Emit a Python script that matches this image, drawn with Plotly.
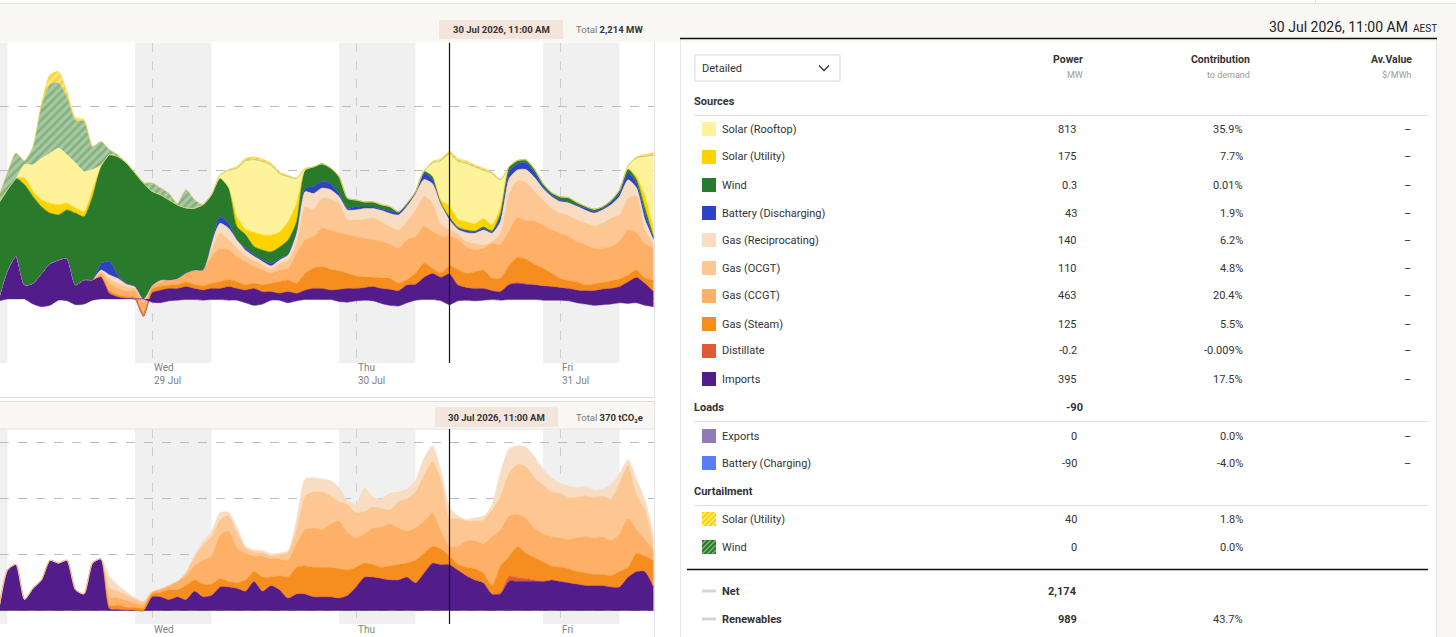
import pandas as pd
import plotly.graph_objects as go

# ---------------- DATA (hourly, Tue 28 Jul 06:00 -> Fri 31 Jul 11:00) ----------------
hours = pd.date_range("2026-07-28 06:00", "2026-07-31 11:00", freq="h")

imports_mw = [
    20, 450, 670, 220, 245, 400, 550, 610, 635, 220,
    300, 300, 350, 90, 35, 10, 0, -270, 100, 140,
    165, 165, 195, 165, 140, 165, 165, 195, 165, 140,
    165, 115, 115, 90, 115, 90, 140, 165, 165, 140,
    150, 165, 165, 180, 195, 165, 150, 130, 220, 230,
    340, 400, 340, 395, 220, 180, 165, 165, 130, 115,
    220, 245, 230, 220, 205, 195, 180, 165, 140, 130,
    130, 155, 165, 195, 270, 340, 245, 115]
distillate_mw = [
    0, 0, 0, 0, 0, 0, 0, 0, 0, 0,
    0, 0, 0, 0, 0, 0, 0, 0, 0, 0,
    0, 0, 0, 0, 0, 0, 0, 0, 0, 0,
    0, 0, 0, 0, 0, 0, 0, 0, 0, 0,
    0, 0, 0, 0, 0, 0, 0, 0, 0, 0,
    0, 0, 0, -0.2, 0, 0, 0, 0, 0, 5,
    15, 15, 10, 5, 0, 0, 0, 0, 0, 0,
    0, 0, 0, 0, 0, 0, 0, 0]
steam_mw = [
    0, 0, 0, 0, 0, 0, 0, 0, 0, 0,
    0, 0, 0, 40, 30, 30, 30, 40, 50, 60,
    50, 60, 70, 60, 65, 80, 105, 105, 105, 80,
    80, 105, 130, 180, 180, 155, 260, 315, 340, 325,
    290, 235, 195, 165, 145, 165, 170, 115, 80, 170,
    220, 80, 65, 125, 235, 220, 260, 285, 195, 210,
    285, 390, 380, 315, 275, 210, 140, 120, 130, 90,
    105, 100, 120, 115, 105, 115, 80, 180]
ccgt_mw = [
    0, 0, 0, 0, 0, 0, 0, 0, 0, 0,
    0, 0, 50, 120, 100, 90, 100, 150, 40, 60,
    80, 95, 140, 225, 250, 415, 520, 470, 390, 365,
    260, 235, 155, 180, 180, 470, 520, 495, 600, 605,
    595, 600, 615, 600, 585, 565, 535, 545, 625, 575,
    575, 575, 575, 463, 470, 415, 340, 340, 545, 520,
    545, 625, 600, 675, 675, 675, 705, 690, 625, 625,
    555, 535, 530, 590, 705, 575, 545, 495]
ocgt_mw = [
    0, 0, 0, 0, 0, 0, 0, 0, 0, 0,
    0, 0, 30, 60, 80, 60, 40, 50, 20, 35,
    0, 0, 0, 0, 0, 105, 235, 155, 130, 90,
    95, 80, 65, 105, 130, 155, 520, 420, 470, 490,
    460, 235, 260, 300, 340, 315, 270, 285, 285, 415,
    470, 445, 180, 110, 80, 80, 105, 50, 25, 180,
    575, 575, 600, 470, 390, 340, 315, 325, 340, 340,
    350, 390, 445, 415, 495, 575, 210, 80]
recip_mw = [
    0, 0, 0, 0, 0, 0, 0, 0, 0, 0,
    0, 0, 20, 65, 75, 40, 25, 30, 0, 0,
    0, 0, 0, 0, 0, 105, 155, 180, 130, 85,
    65, 50, 50, 50, 80, 155, 235, 250, 155, 145,
    105, 155, 155, 165, 145, 170, 210, 235, 235, 250,
    260, 300, 315, 140, 80, 140, 155, 235, 130, 180,
    235, 165, 200, 210, 180, 180, 180, 200, 210, 200,
    200, 210, 210, 285, 285, 130, 155, 50]
battery_mw = [
    0, 0, 0, 0, 0, 0, 0, 0, 0, 0,
    0, 0, 100, 210, 50, 10, 0, 0, 0, 0,
    0, 0, 0, 0, 0, 0, 105, 80, 5, 35,
    25, 25, 40, 25, 10, 25, 50, 115, 105, 95,
    50, 25, 50, 25, 25, 25, 40, 35, 25, 25,
    105, 65, 10, 43, 25, 30, 25, 25, 25, 80,
    105, 95, 105, 80, 35, 25, 25, 15, 15, 35,
    25, 25, 35, 50, 105, 80, 105, 25]
wind_mw = [
    1480, 1255, 1215, 1565, 1355, 1040, 790, 705, 755, 1120,
    985, 1300, 1520, 1665, 1850, 1880, 1770, 1810, 1470, 1330,
    1250, 1145, 1015, 965, 1015, 755, 600, 550, 205, 210,
    130, 155, 180, 180, 225, 155, 285, 300, 275, 245,
    260, 155, 105, 80, 80, 65, 65, 15, 25, 10,
    25, 50, 10, 0.3, 10, 10, 10, 25, 15, 50,
    80, 50, 45, 50, 40, 35, 50, 65, 45, 25,
    35, 25, 30, 50, 65, 50, 80, 25]
utility_mw = [
    0, 0, 0, 105, 80, 105, 155, 155, 105, 80,
    80, 105, 0, 0, 0, 0, 0, 0, 0, 0,
    0, 0, 0, 0, 0, 0, 0, 10, 155, 80,
    220, 235, 260, 235, 285, 285, 0, 0, 0, 0,
    0, 0, 0, 0, 0, 0, 0, 0, 0, 0,
    0, 0, 40, 175, 120, 130, 115, 130, 90, 100,
    0, 0, 0, 0, 0, 0, 0, 0, 0, 0,
    0, 0, 0, 0, 0, 50, 180, 105]
rooftop_mw = [
    0, 0, 0, 210, 415, 650, 780, 885, 755, 705,
    625, 315, 20, 0, 0, 0, 0, 0, 0, 0,
    0, 0, 0, 0, 0, 0, 50, 260, 755, 1070,
    1135, 1145, 1095, 910, 705, 390, 25, 0, 0, 0,
    0, 0, 0, 0, 0, 0, 0, 0, 0, 0,
    0, 210, 625, 813, 910, 910, 885, 755, 805, 420,
    0, 0, 0, 0, 0, 0, 0, 0, 0, 0,
    0, 0, 0, 0, 50, 285, 625, 1170]
wind_curtail_mw = [
    100, 260, 390, 50, 270, 810, 1070, 1015, 890, 655,
    780, 350, 365, 80, 25, 0, 0, 0, 130, 105,
    100, 20, 285, 130, 0, 0, 0, 0, 0, 0,
    0, 0, 0, 0, 0, 0, 0, 0, 0, 0,
    0, 0, 0, 0, 0, 0, 0, 0, 0, 0,
    0, 0, 0, 0, 0, 0, 0, 0, 0, 0,
    0, 0, 0, 0, 0, 0, 0, 0, 0, 0,
    0, 0, 0, 0, 0, 0, 0, 0]
solar_curtail_mw = [
    0, 0, 0, 10, 15, 50, 155, 180, 100, 50,
    30, 15, 0, 0, 0, 0, 0, 0, 0, 0,
    0, 0, 0, 0, 0, 0, 0, 10, 30, 40,
    40, 40, 30, 30, 20, 10, 0, 0, 0, 0,
    0, 0, 0, 0, 0, 0, 0, 0, 0, 0,
    0, 20, 30, 40, 40, 40, 30, 30, 20, 10,
    0, 0, 0, 0, 0, 0, 0, 0, 0, 0,
    0, 0, 0, 0, 0, 20, 30, 40]
charging_mw = [
    -30, 0, 0, 0, -80, -120, -100, -20, -30, -90,
    -80, -20, 0, 0, 0, 0, 0, 0, -50, -60,
    -30, -20, -10, -10, -20, -10, -10, -20, -20, -60,
    -100, -80, -20, -20, -60, -30, -10, -10, -10, -10,
    -40, -50, -30, -20, -30, -70, -100, -110, -60, -20,
    -10, -10, -30, -90, -30, -20, -30, -20, -10, -20,
    -10, -10, -10, -10, -20, -20, -20, -30, -60, -80,
    -100, -90, -80, -60, -70, -60, -100, -120]

# emissions, tCO2e
em_imports = [
    8, 145, 165, 40, 80, 110, 180, 170, 180, 75,
    60, 170, 185, 8, 5, 2, 2, 0, 50, 50,
    40, 50, 40, 70, 50, 55, 85, 85, 80, 70,
    105, 70, 90, 75, 45, 60, 60, 50, 50, 50,
    45, 55, 85, 120, 120, 115, 110, 110, 120, 100,
    135, 170, 165, 165, 145, 125, 110, 100, 60, 60,
    105, 105, 105, 105, 105, 110, 105, 100, 95, 90,
    90, 90, 85, 85, 120, 140, 140, 85]
em_distillate = [
    0, 0, 0, 0, 0, 0, 0, 0, 0, 0,
    0, 0, 0, 0, 0, 0, 0, 0, 0, 0,
    0, 0, 0, 0, 0, 0, 0, 0, 0, 0,
    0, 0, 0, 0, 0, 0, 0, 0, 0, 0,
    0, 0, 0, 0, 0, 0, 0, 0, 0, 0,
    0, 0, 0, 0, 0, 0, 0, 0, 0, 5,
    18, 14, 10, 5, 0, 0, 0, 0, 0, 0,
    0, 0, 0, 0, 0, 0, 0, 0]
em_steam = [
    0, 0, 0, 0, 0, 0, 0, 0, 0, 0,
    0, 0, 0, 10, 15, 10, 10, 10, 10, 15,
    35, 25, 50, 40, 45, 40, 30, 20, 20, 40,
    35, 50, 30, 50, 75, 95, 100, 105, 105, 105,
    105, 90, 70, 50, 45, 40, 50, 55, 50, 80,
    70, 60, 55, 30, 20, 30, 40, 35, 30, 95,
    70, 110, 90, 80, 70, 50, 50, 50, 45, 45,
    40, 40, 40, 55, 35, 65, 55, 95]
em_ccgt = [
    0, 0, 0, 0, 0, 0, 0, 0, 0, 0,
    0, 0, 0, 30, 25, 25, 15, 12, 8, 12,
    15, 30, 35, 50, 85, 100, 155, 180, 125, 95,
    55, 75, 65, 60, 60, 85, 130, 140, 135, 155,
    170, 135, 105, 105, 130, 145, 150, 130, 115, 115,
    115, 120, 65, 35, 65, 95, 100, 105, 175, 130,
    145, 115, 125, 105, 100, 105, 105, 105, 120, 130,
    130, 135, 125, 135, 175, 85, 60, 35]
em_ocgt = [
    0, 0, 0, 0, 0, 0, 0, 0, 0, 0,
    0, 0, 0, 35, 25, 20, 15, 10, 0, 0,
    0, 0, 12, 35, 55, 70, 55, 55, 55, 20,
    15, 12, 12, 15, 30, 50, 120, 130, 135, 100,
    70, 100, 90, 80, 75, 65, 50, 95, 115, 130,
    165, 185, 185, 100, 100, 70, 70, 85, 95, 120,
    155, 180, 185, 180, 175, 160, 160, 150, 145, 145,
    145, 145, 150, 180, 190, 125, 105, 25]
em_recip = [
    0, 0, 0, 0, 0, 0, 0, 0, 0, 0,
    0, 0, 0, 40, 20, 10, 5, 0, 0, 0,
    0, 0, 0, 0, 12, 18, 25, 12, 18, 6,
    7, 8, 6, 6, 4, 35, 60, 50, 45, 55,
    50, 12, 30, 85, 35, 35, 60, 35, 35, 40,
    60, 55, 30, 40, 8, 6, 12, 12, 18, 85,
    85, 65, 70, 75, 55, 50, 35, 40, 35, 35,
    25, 25, 50, 35, 20, 55, 35, 35]

# table
source_names = ["Solar (Rooftop)", "Solar (Utility)", "Wind", "Battery (Discharging)",
                "Gas (Reciprocating)", "Gas (OCGT)", "Gas (CCGT)", "Gas (Steam)",
                "Distillate", "Imports"]
source_power = ["813", "175", "0.3", "43", "140", "110", "463", "125", "-0.2", "395"]
source_contrib = ["35.9%", "7.7%", "0.01%", "1.9%", "6.2%", "4.8%", "20.4%", "5.5%",
                  "-0.009%", "17.5%"]
load_names = ["Exports", "Battery (Charging)"]
load_power = ["0", "-90"]
load_contrib = ["0.0%", "-4.0%"]
curtail_names = ["Solar (Utility)", "Wind"]
curtail_power = ["40", "0"]
curtail_contrib = ["1.8%", "0.0%"]
day_ticks = ["2026-07-29", "2026-07-30", "2026-07-31"]
day_labels = ["Wed<br>29 Jul", "Thu<br>30 Jul", "Fri<br>31 Jul"]
day_short = ["Wed", "Thu", "Fri"]
night_starts = ["2026-07-27 22:00", "2026-07-28 22:00", "2026-07-29 22:00", "2026-07-30 22:00"]
night_ends = ["2026-07-28 07:00", "2026-07-29 07:00", "2026-07-30 07:00", "2026-07-31 07:00"]
cursor_time = "2026-07-30 11:00"

# ---------------- STYLE ----------------
C = {
    "Solar (Rooftop)": "#FEF39B", "Solar (Utility)": "#FED300", "Wind": "#2A7A2C",
    "Battery (Discharging)": "#2C44C4", "Gas (Reciprocating)": "#F9DDC3",
    "Gas (OCGT)": "#FDC794", "Gas (CCGT)": "#FDB066", "Gas (Steam)": "#F58E1E",
    "Distillate": "#E05A34", "Imports": "#521C8A", "Exports": "#927AB4",
    "Battery (Charging)": "#5A7CF8",
}
W, H = 1456, 637
FONT = "Roboto"


def px(x):
    return x / W


def py(y):
    return 1 - y / H


fig = go.Figure()

gen = [("Imports", imports_mw), ("Distillate", distillate_mw), ("Gas (Steam)", steam_mw),
       ("Gas (CCGT)", ccgt_mw), ("Gas (OCGT)", ocgt_mw), ("Gas (Reciprocating)", recip_mw),
       ("Battery (Discharging)", battery_mw), ("Wind", wind_mw),
       ("Solar (Utility)", utility_mw), ("Solar (Rooftop)", rooftop_mw)]
for name, vals in gen:
    fig.add_trace(go.Scatter(x=hours, y=vals, name=name, stackgroup="gen", mode="lines",
                             line=dict(width=0.5, color=C[name], shape="spline", smoothing=0.6),
                             fillcolor=C[name], xaxis="x", yaxis="y", hoverinfo="skip"))
fig.add_trace(go.Scatter(x=hours, y=wind_curtail_mw, name="Wind (Curtailed)", stackgroup="gen",
                         mode="lines", line=dict(width=0.5, color="#8DB58A", shape="spline", smoothing=0.6),
                         fillcolor="#A9C9A5",
                         fillpattern=dict(shape="/", bgcolor="#A9C9A5", fgcolor="#5E9A5B", size=6, solidity=0.45),
                         xaxis="x", yaxis="y", hoverinfo="skip"))
fig.add_trace(go.Scatter(x=hours, y=solar_curtail_mw, name="Solar (Utility, Curtailed)", stackgroup="gen",
                         mode="lines", line=dict(width=0.5, color="#F4D23A", shape="spline", smoothing=0.6),
                         fillcolor="#FBE47A",
                         fillpattern=dict(shape="/", bgcolor="#FBE47A", fgcolor="#F2C400", size=6, solidity=0.5),
                         xaxis="x", yaxis="y", hoverinfo="skip"))
fig.add_trace(go.Scatter(x=hours, y=charging_mw, name="Battery (Charging)", stackgroup="neg", mode="lines",
                         line=dict(width=0.5, color="#521C8A", shape="spline", smoothing=0.6),
                         fillcolor="#521C8A", xaxis="x", yaxis="y", hoverinfo="skip"))

emi = [("Imports", em_imports), ("Distillate", em_distillate), ("Gas (Steam)", em_steam),
       ("Gas (CCGT)", em_ccgt), ("Gas (OCGT)", em_ocgt), ("Gas (Reciprocating)", em_recip)]
for name, vals in emi:
    fig.add_trace(go.Scatter(x=hours, y=vals, name=name + " tCO2e", stackgroup="em", mode="lines",
                             line=dict(width=0.5, color=C[name], shape="spline", smoothing=0.6),
                             fillcolor=C[name], xaxis="x2", yaxis="y2", hoverinfo="skip"))

shapes = []
ann = []


def rect(x0, y0, x1, y1, fill, line=None, lw=0, layer="below"):
    shapes.append(dict(type="rect", xref="paper", yref="paper", x0=px(x0), x1=px(x1),
                       y0=py(y1), y1=py(y0), fillcolor=fill,
                       line=dict(color=line or fill, width=lw), layer=layer))


def seg(x0, y0, x1, y1, color, width=1, dash="solid", layer="above"):
    shapes.append(dict(type="line", xref="paper", yref="paper", x0=px(x0), x1=px(x1),
                       y0=py(y0), y1=py(y1), line=dict(color=color, width=width, dash=dash),
                       layer=layer))


def text(x, y, s, size=11, color="#333333", anchor="left"):
    ann.append(dict(xref="paper", yref="paper", x=px(x), y=py(y), text=s, showarrow=False,
                    xanchor=anchor, yanchor="middle", borderpad=0, borderwidth=0,
                    font=dict(family=FONT, size=size, color=color)))


BEIGE = "#F9F7F4"
# page frame
rect(0, 4, W, 42, BEIGE)
rect(0, 402, 655, 429, BEIGE)
rect(1437, 38, W, H, BEIGE)
seg(0, 3.5, W, 3.5, "#E3E3E3")
seg(1315.5, 0, 1315.5, 4, "#E3E3E3")
seg(0, 397.5, 655, 397.5, "#DDDDDD")
seg(0, 401.5, 655, 401.5, "#DDDDDD")
seg(0, 429, 655, 429, "#E3E3E3")
seg(654.5, 42, 654.5, 398, "#E3E3E3")
seg(654.5, 402, 654.5, H, "#E3E3E3")
seg(680.5, 38, 680.5, H, "#E6E6E6")
seg(1436.5, 38, 1436.5, H, "#E6E6E6")
seg(680, 38.5, 1437, 38.5, "#111111", width=1.5)

# night bands, cursor
for s, e in zip(night_starts, night_ends):
    for xr, yr in (("x", "y domain"), ("x2", "y2 domain")):
        shapes.append(dict(type="rect", xref=xr, yref=yr, x0=s, x1=e, y0=0, y1=1,
                           fillcolor="#F0F0F0", line=dict(width=0), layer="below"))
for xr, yr in (("x", "y domain"), ("x2", "y2 domain")):
    shapes.append(dict(type="line", xref=xr, yref=yr, x0=cursor_time, x1=cursor_time, y0=0, y1=1,
                       line=dict(color="#111111", width=1.2), layer="above"))

# chart headers
rect(439, 20, 563, 39, "#F3E4DC")
text(501, 29.5, "<b>30 Jul 2026, 11:00 AM</b>", size=9.5, color="#333333", anchor="center")
text(643, 29.5, "<span style='color:#777777'>Total</span> <b>2,214 MW</b>", size=9.5, anchor="right")
rect(435, 407, 558, 427, "#F3E4DC")
text(496.5, 417, "<b>30 Jul 2026, 11:00 AM</b>", size=9.5, color="#333333", anchor="center")
text(643, 417, "<span style='color:#777777'>Total</span> <b>370 tCO₂e</b>", size=9.5, anchor="right")

# day tick labels
for d, lab, short in zip(day_ticks, day_labels, day_short):
    ann.append(dict(xref="x", yref="paper", x=d, y=py(362), text=lab, showarrow=False,
                    xanchor="left", yanchor="top", xshift=2, align="left", borderpad=0, borderwidth=0,
                    font=dict(family=FONT, size=10, color="#808080")))
    ann.append(dict(xref="x2", yref="paper", x=d, y=py(624), text=short, showarrow=False,
                    xanchor="left", yanchor="top", xshift=2, align="left", borderpad=0, borderwidth=0,
                    font=dict(family=FONT, size=10, color="#808080")))

# ---------------- TABLE PANEL ----------------
text(1408, 27, "30 Jul 2026, 11:00 AM", size=14, color="#222222", anchor="right")
text(1437, 28.5, "AEST", size=10, color="#222222", anchor="right")

rect(695, 55, 840, 81, "#FFFFFF", line="#D9D9D9", lw=1, layer="above")
text(702, 68, "Detailed", size=11, color="#333333")
shapes.append(dict(type="path", xref="paper", yref="paper",
                   path=f"M {px(819)} {py(65.5)} L {px(824)} {py(70.5)} L {px(829)} {py(65.5)}",
                   line=dict(color="#333333", width=1.3), layer="above"))

for xr, head, sub in ((1083, "Power", "MW"), (1250, "Contribution", "to demand"), (1412, "Av.Value", "$/MWh")):
    text(xr, 60, f"<b>{head}</b>", size=10.5, color="#333333", anchor="right")
    text(xr, 75, sub, size=9, color="#9A9A9A", anchor="right")

X_SW, X_LAB, X_POW, X_CON, X_AV = 702, 722, 1077, 1243, 1407


def swatch(y, color):
    rect(X_SW, y - 7, X_SW + 14, y + 7, color, layer="above")


def hatched(y, color, stripe):
    swatch(y, color)
    top = y - 7
    for c in (4, 9, 14, 19, 24):
        xa, xb = max(0, c - 14), min(14, c)
        seg(X_SW + xa, top + c - xa, X_SW + xb, top + c - xb, stripe, width=1.2)


text(694, 101, "<b>Sources</b>", size=11)
seg(694, 115.5, 1428, 115.5, "#E0E0E0")
row_y = [129, 157, 185, 213, 240, 268, 296, 324, 351, 379]
for y, n, p, c in zip(row_y, source_names, source_power, source_contrib):
    swatch(y, C[n])
    text(X_LAB, y, n, size=11)
    text(X_POW, y, p, size=11, anchor="right")
    text(X_CON, y, c, size=11, anchor="right")
    text(X_AV, y, "–", size=11, anchor="center")

text(694, 407, "<b>Loads</b>", size=11)
text(1083, 407, "<b>-90</b>", size=11, anchor="right")
seg(694, 421.5, 1428, 421.5, "#E0E0E0")
for y, n, p, c in zip([436, 463], load_names, load_power, load_contrib):
    swatch(y, C[n])
    text(X_LAB, y, n, size=11)
    text(X_POW, y, p, size=11, anchor="right")
    text(X_CON, y, c, size=11, anchor="right")
    text(X_AV, y, "–", size=11, anchor="center")

text(694, 491, "<b>Curtailment</b>", size=11)
seg(694, 505.5, 1428, 505.5, "#E0E0E0")
hatched(519, "#FED300", "#FFF0A0")
hatched(547, "#2A7A2C", "#86B783")
for y, n, p, c in zip([519, 547], curtail_names, curtail_power, curtail_contrib):
    text(X_LAB, y, n, size=11)
    text(X_POW, y, p, size=11, anchor="right")
    text(X_CON, y, c, size=11, anchor="right")

seg(687, 569.5, 1428, 569.5, "#111111", width=1.6)
for y, n, p, c in ((591, "Net", "2,174", ""), (619, "Renewables", "989", "43.7%")):
    seg(X_SW, y, X_SW + 14, y, "#D5D5D5", width=3)
    text(X_LAB, y, f"<b>{n}</b>", size=11)
    text(X_POW, y, f"<b>{p}</b>", size=11, anchor="right")
    if c:
        text(X_CON, y, c, size=11, anchor="right")

# ---------------- LAYOUT ----------------
xr = ["2026-07-28 06:07:04", "2026-07-31 11:03:32"]
axis_common = dict(type="date", range=xr, showgrid=True, gridcolor="#CFCFCF", griddash="dash",
                   gridwidth=1, tick0="2026-07-29", dtick=86400000, showticklabels=False,
                   ticks="", zeroline=False, showline=False, fixedrange=True)
fig.update_layout(
    width=W, height=H, margin=dict(l=0, r=0, t=0, b=0),
    paper_bgcolor="#FFFFFF", plot_bgcolor="#FFFFFF", showlegend=False, hovermode=False,
    font=dict(family=FONT, size=11, color="#333333"),
    xaxis=dict(domain=[0, 654 / W], anchor="y", **axis_common),
    xaxis2=dict(domain=[0, 654 / W], anchor="y2", **axis_common),
    yaxis=dict(domain=[py(363), py(42.7)], range=[-1000, 4000], dtick=1000, tick0=0,
               showgrid=True, gridcolor="#BDBDBD", griddash="dash", gridwidth=1,
               zeroline=False, showticklabels=False, ticks="", fixedrange=True),
    yaxis2=dict(domain=[py(624), py(429)], range=[-47.5, 649], dtick=200, tick0=0,
                showgrid=True, gridcolor="#BDBDBD", griddash="dash", gridwidth=1,
                zeroline=False, showticklabels=False, ticks="", fixedrange=True),
    shapes=shapes, annotations=ann,
)

fig.write_html("out.html", config={"displayModeBar": False},
               post_script="document.body.style.margin='0';document.body.style.overflow='hidden';")
